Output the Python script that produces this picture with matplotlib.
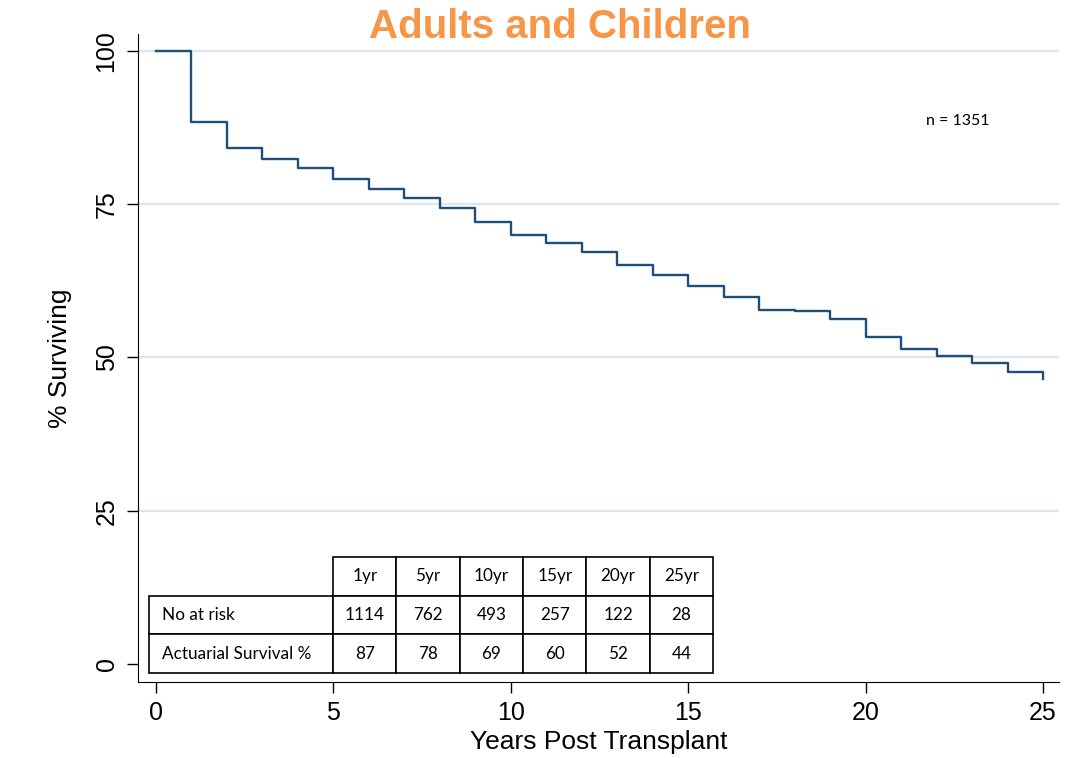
import numpy as np
import matplotlib
matplotlib.use("Agg")
import matplotlib.pyplot as plt

# Kaplan-Meier style survival
years = list(range(0, 26))
surv = [100, 88.3, 84.1, 82.4, 80.9, 79.1, 77.5, 75.9, 74.3, 72.1,
        70.0, 68.7, 67.1, 65.1, 63.4, 61.7, 59.9, 57.8, 57.5, 56.2,
        53.4, 51.3, 50.3, 49.1, 47.6, 46.4]

col_labels = ["1yr", "5yr", "10yr", "15yr", "20yr", "25yr"]
at_risk = ["1114", "762", "493", "257", "122", "28"]
actuarial = ["87", "78", "69", "60", "52", "44"]

title = "Adults and Children"
n_text = "n = 1351"

plt.rcParams["font.family"] = ["Liberation Sans", "DejaVu Sans"]

fig = plt.figure(figsize=(10.76, 7.58), dpi=100)
W, H = 1076.0, 758.0
ax = fig.add_axes([138 / W, 1 - 682 / H, (1059 - 138) / W, (682 - 34) / H])

ax.set_xlim(-0.5, 25.45)
ax.set_ylim(-2.9, 102.7)

for g in [25, 50, 75, 100]:
    ax.axhline(g, color="#dfe5ee", lw=1.6, zorder=0)

ax.step(years, surv, where="post", color="#1f4e79", lw=1.7, zorder=3)

ax.spines["top"].set_visible(False)
ax.spines["right"].set_visible(False)
ax.set_xticks([0, 5, 10, 15, 20, 25])
ax.set_yticks([0, 25, 50, 75, 100])
ax.tick_params(axis="both", length=8, width=1, labelsize=18, pad=6)
for lab in ax.get_yticklabels():
    lab.set_rotation(90)
    lab.set_va("center")

ax.set_xlabel("Years Post Transplant", fontsize=19, labelpad=3)
ax.set_ylabel("% Surviving", fontsize=19, labelpad=16)

fig.text(0.52, 0.965, title, ha="center", va="center", fontsize=29,
         fontweight="bold", color="#f79646")

ax.text(22.6, 88.6, n_text, ha="center", va="center", fontsize=11.5,
        family=["Lato", "DejaVu Sans"])

# numbers table in the lower left
cells = [[""] + col_labels,
         ["No at risk"] + at_risk,
         ["Actuarial Survival %"] + actuarial]
x0 = (149 - 138) / 921.0
x1 = (713 - 138) / 921.0
y0 = (682 - 673) / 648.0
y1 = (682 - 557) / 648.0
tab = ax.table(cellText=cells, bbox=[x0, y0, x1 - x0, y1 - y0],
               colWidths=[184] + [63.3] * 6, cellLoc="center")
tab.auto_set_font_size(False)
for (r, c), cell in tab.get_celld().items():
    cell.set_linewidth(1.2)
    cell.set_edgecolor("black")
    cell.get_text().set_fontsize(12.3)
    cell.get_text().set_family(["Lato", "DejaVu Sans"])
    if c == 0:
        cell.get_text().set_ha("left")
        cell.PAD = 0.07
    if r == 0 and c == 0:
        cell.visible_edges = ""
tab.set_zorder(4)

fig.savefig("out.png", dpi=100)
